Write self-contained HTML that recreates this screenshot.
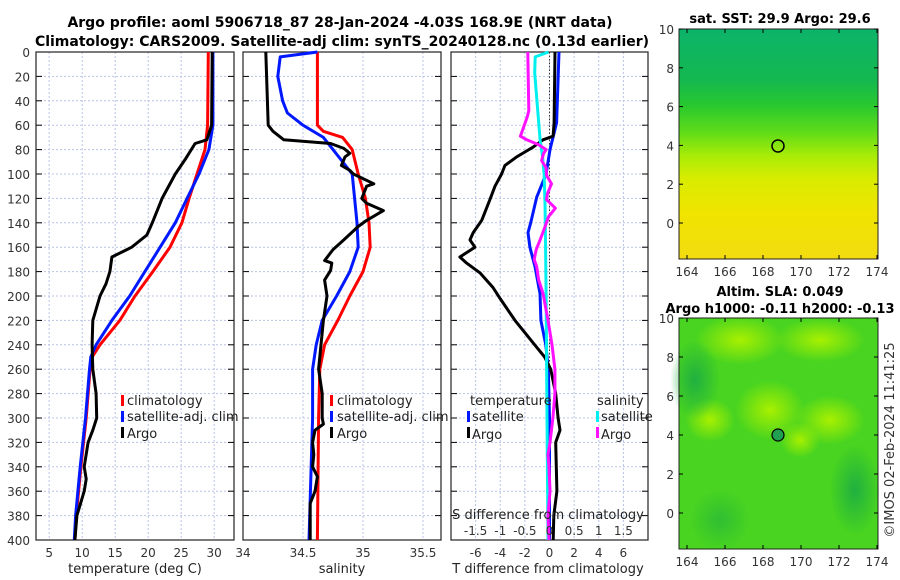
<!DOCTYPE html>
<html><head><meta charset="utf-8"><style>
html,body{margin:0;padding:0;background:#fff;}
svg{display:block;font-family:"DejaVu Sans","Liberation Sans",sans-serif;}
</style></head><body>
<svg id="c" width="900" height="580" xmlns="http://www.w3.org/2000/svg">
<defs>
<linearGradient id="sstg" x1="0" y1="0" x2="0" y2="1">
<stop offset="0" stop-color="#0cb46a"/><stop offset="0.22" stop-color="#14b850"/><stop offset="0.33" stop-color="#28c830"/>
<stop offset="0.45" stop-color="#60dc18"/><stop offset="0.55" stop-color="#a8ec08"/><stop offset="0.65" stop-color="#d8ec00"/>
<stop offset="0.8" stop-color="#f0e400"/><stop offset="1" stop-color="#f2dc10"/></linearGradient>
<radialGradient id="blobL"><stop offset="0" stop-color="#a8f000"/><stop offset="1" stop-color="#a8f000" stop-opacity="0"/></radialGradient>
<radialGradient id="blobD"><stop offset="0" stop-color="#20b040"/><stop offset="1" stop-color="#20b040" stop-opacity="0"/></radialGradient>
</defs>
<g id="titles">
<text x="340" y="27" text-anchor="middle" font-size="14" font-weight="bold">Argo profile: aoml 5906718_87 28-Jan-2024 -4.03S 168.9E (NRT data)</text>
<text x="342" y="46" text-anchor="middle" font-size="14" font-weight="bold">Climatology: CARS2009. Satellite-adj clim: synTS_20240128.nc (0.13d earlier)</text>
</g>
<g id="plots"></g>
<g id="maps">
<text x="780" y="23" text-anchor="middle" font-size="13" font-weight="bold">sat. SST: 29.9 Argo: 29.6</text>
<rect x="679" y="29" width="199" height="230" fill="url(#sstg)"/>
<circle cx="778" cy="146" r="6" fill="none" stroke="#000" stroke-width="1.5"/>
<text x="780" y="296" text-anchor="middle" font-size="13" font-weight="bold">Altim. SLA: 0.049</text>
<text x="780" y="313" text-anchor="middle" font-size="13" font-weight="bold">Argo h1000: -0.11 h2000: -0.13</text>
<rect x="679" y="318" width="199" height="231" fill="#48d420"/>
<g>
<ellipse cx="740" cy="340" rx="45" ry="25" fill="url(#blobL)"/>
<ellipse cx="820" cy="340" rx="45" ry="22" fill="url(#blobL)"/>
<ellipse cx="770" cy="410" rx="35" ry="30" fill="url(#blobL)"/>
<ellipse cx="710" cy="420" rx="25" ry="22" fill="url(#blobL)"/>
<ellipse cx="830" cy="420" rx="35" ry="25" fill="url(#blobL)"/>
<ellipse cx="800" cy="440" rx="20" ry="18" fill="url(#blobL)"/>
<ellipse cx="695" cy="380" rx="25" ry="40" fill="url(#blobD)"/>
<ellipse cx="855" cy="490" rx="25" ry="45" fill="url(#blobD)"/>
<ellipse cx="720" cy="520" rx="30" ry="30" fill="url(#blobD)" opacity="0.6"/>
</g>
<circle cx="778" cy="435" r="6" fill="#20a050" stroke="#000" stroke-width="1.2"/>
<text transform="translate(894,440) rotate(-90)" text-anchor="middle" font-size="13" fill="#333">©IMOS 02-Feb-2024 11:41:25</text>
</g>
</svg>
<script>
const tClimD=[0,60,80,100,120,140,160,180,200,220,240,250,260,300,340,380,400];
const tClim=[29.1,29.0,28.6,27.4,26.2,25.1,23.3,20.7,18.0,15.7,12.7,11.5,11.2,10.6,9.8,9.1,8.9];
const tSatD=[0,60,80,100,120,140,160,180,200,220,240,250,260,300,340,380,400];
const tSat=[29.8,29.8,29.2,27.7,25.9,24.1,21.8,19.5,17.2,14.5,12.1,11.3,11.1,10.5,9.7,9.0,8.8];
const tArgoD=[0,60,72,75,88,100,120,139,150,160,168,180,190,200,220,240,260,280,300,310,320,340,350,360,380,400];
const tArgo=[29.7,29.6,28.9,27.1,25.6,24.1,22.1,20.7,19.8,17.5,14.5,14.2,13.6,12.7,11.6,11.5,11.6,12.1,12.2,11.6,10.9,10.3,10.6,10.3,9.2,8.9];
const sClimD=[0,60,65,70,80,100,120,140,160,180,200,220,240,260,300,400];
const sClim=[34.62,34.62,34.67,34.83,34.91,34.96,35.02,35.05,35.06,35.0,34.89,34.79,34.68,34.64,34.63,34.62];
const sSatD=[0,4,20,40,50,60,70,80,100,120,140,160,180,200,220,240,260,300,400];
const sSat=[34.62,34.31,34.29,34.33,34.37,34.5,34.67,34.75,34.91,34.93,34.95,34.96,34.89,34.78,34.66,34.61,34.58,34.58,34.55];
const sArgoD=[0,60,65,72,75,79,83,86,93,97,100,108,110,120,124,130,138,143,154,162,171,173,179,187,200,220,240,260,280,300,305,310,320,330,340,348,360,370,380,400];
const sArgo=[34.19,34.21,34.25,34.34,34.73,34.84,34.89,34.85,34.82,34.89,34.92,35.09,35.03,34.99,35.03,35.17,35.03,34.96,34.84,34.75,34.68,34.74,34.73,34.68,34.7,34.67,34.65,34.63,34.66,34.66,34.67,34.6,34.58,34.59,34.58,34.62,34.6,34.56,34.56,34.56];
const dTSatD=[0,58,80,100,119,140,148,160,176,198,220,240,260,300,400];
const dTSat=[0.77,0.58,0.04,-0.28,-1.04,-1.53,-1.75,-1.59,-1.18,-0.77,-0.7,-0.3,-0.1,0,0];
const dTArgoD=[0,58,69,72,78,82,86,93,100,110,121,138,148,154,160,168,173,181,193,202,220,240,250,260,280,300,310,320,340,360,380,400];
const dTArgo=[0.45,0.37,0.29,-0.53,-1.34,-2.0,-2.67,-3.62,-3.89,-4.43,-4.84,-5.51,-6.2,-6.46,-6.06,-7.28,-6.73,-5.65,-4.59,-4.02,-2.8,-1.2,-0.4,0.1,0.5,0.7,0.85,0.5,0.55,0.6,0.35,0.3];
const dSSatD=[0,4,17,58,72,86,100,127,198,300,400];
const dSSat=[-0.02,-0.29,-0.3,-0.22,-0.19,-0.14,-0.11,-0.09,-0.07,-0.05,-0.03];
const dSArgoD=[0,48,53,69,72,76,80,83,89,95,101,108,116,121,128,135,143,154,162,170,176,187,198,220,240,260,280,300,320,330,340,360,380,400];
const dSArgo=[-0.44,-0.42,-0.45,-0.59,-0.46,-0.22,-0.07,-0.12,-0.16,-0.07,-0.06,0.04,-0.04,-0.06,0.12,-0.02,-0.09,-0.19,-0.27,-0.31,-0.26,-0.22,-0.13,-0.03,0.05,0.11,0.11,0.07,0.01,-0.03,-0.01,0.01,-0.03,-0.01];
const depthTicks=[0,20,40,60,80,100,120,140,160,180,200,220,240,260,280,300,320,340,360,380,400];
const tTicks=[5,10,15,20,25,30];
const sTicks=[34,34.5,35,35.5];
const dTTicks=[-6,-4,-2,0,2,4,6];
const dSTicks=[-1.5,-1,-0.5,0,0.5,1,1.5];

const NS='http://www.w3.org/2000/svg';
const root=document.getElementById('plots');
function mk(tag,attrs,parent){const e=document.createElementNS(NS,tag);for(const k in attrs)e.setAttribute(k,attrs[k]);(parent||root).appendChild(e);return e;}
const Y0=52,Y1=540;
const yS=d=>Y0+(d/400)*(Y1-Y0);
function lin(d0,d1,r0,r1){return v=>r0+(v-d0)/(d1-d0)*(r1-r0);}
const xT=lin(3,33,36,234), xS=lin(34,35.65,243,441), xDT=lin(-8,8,451,648), xDS=lin(-2,2,451,648);

function panel(name,x0,x1,vticks,xf,fmt,showY){
  const g=mk('g',{});
  
  
  vticks.forEach(v=>{const x=xf(v);if(x>x0+1&&x<x1-1){const l=mk('line',{x1:x,x2:x,y1:Y0,y2:Y1,stroke:'#b8c4e8','stroke-width':1,'stroke-dasharray':'2,2'},g);}});
  depthTicks.forEach(d=>{const y=yS(d);if(d>0&&d<400){const l=mk('line',{x1:x0,x2:x1,y1:y,y2:y,stroke:'#b8c4e8','stroke-width':1,'stroke-dasharray':'2,2'},g);}
    mk('line',{x1:x0,x2:x0+6,y1:y,y2:y,stroke:'#000'},g);mk('line',{x1:x1-6,x2:x1,y1:y,y2:y,stroke:'#000'},g);
    if(showY){const t=mk('text',{x:x0-6,y:y+5,'text-anchor':'end','font-size':12,fill:'#333'},g);t.textContent=d;}});
  const r=mk('rect',{x:x0,y:Y0,width:x1-x0,height:Y1-Y0,fill:'none',stroke:'#222','stroke-width':1.2},g);
  
  return g;
}
function series(g,name,ds,vs,xf,color,w){
  const pts=ds.map((d,i)=>xf(vs[i]).toFixed(1)+','+yS(d).toFixed(1)).join(' ');
  const p=mk('polyline',{points:pts,fill:'none',stroke:color,'stroke-width':w||3,'stroke-linejoin':'round'},g);
  
  
}
function xlabels(g,ticks,xf,y,fmt){ticks.forEach(v=>{const t=mk('text',{x:xf(v),y:y,'text-anchor':'middle','font-size':12,fill:'#333'},g);t.textContent=fmt?fmt(v):v;});}
function txt(g,name,x,y,s,anchor){const t=mk('text',{x:x,y:y,'text-anchor':anchor||'start','font-size':13,fill:'#222'},g);t.textContent=s;return t;}
function legBar(g,x,y,c){const r=mk('rect',{x:x,y:y-11,width:3,height:11,fill:c},g);}

const g1=panel('temperature-panel',36,234,tTicks,xT,null,true);
series(g1,'temp-climatology-line',tClimD,tClim,xT,'#f00');
series(g1,'temp-satellite-line',tSatD,tSat,xT,'#0018ff');
series(g1,'temp-argo-line',tArgoD,tArgo,xT,'#000');
xlabels(g1,tTicks,xT,557);
txt(g1,'x-axis-title-temperature',135,573,'temperature (deg C)','middle');
legBar(g1,121,406,'#f00');txt(g1,'legend-climatology',127,405,'climatology');
legBar(g1,121,422,'#0018ff');txt(g1,'legend-satellite-adj',127,421,'satellite-adj. clim');
legBar(g1,121,438,'#000');txt(g1,'legend-argo',127,438,'Argo');

const g2=panel('salinity-panel',243,441,sTicks,xS,null,false);
series(g2,'sal-climatology-line',sClimD,sClim,xS,'#f00');
series(g2,'sal-satellite-line',sSatD,sSat,xS,'#0018ff');
series(g2,'sal-argo-line',sArgoD,sArgo,xS,'#000');
xlabels(g2,sTicks,xS,557);
txt(g2,'x-axis-title-salinity',342,573,'salinity','middle');
legBar(g2,330,406,'#f00');txt(g2,'legend-climatology',337,405,'climatology');
legBar(g2,330,422,'#0018ff');txt(g2,'legend-satellite-adj',337,421,'satellite-adj. clim');
legBar(g2,330,438,'#000');txt(g2,'legend-argo',337,438,'Argo');

const g3=panel('difference-panel',451,648,dTTicks,xDT,null,false);
const zl=mk('line',{x1:xDT(0),x2:xDT(0),y1:Y0,y2:Y1,stroke:'#333','stroke-width':1,'stroke-dasharray':'1.5,2'},g3);

series(g3,'dT-satellite-line',dTSatD,dTSat,xDT,'#0018ff');
series(g3,'dT-argo-line',dTArgoD,dTArgo,xDT,'#000');
series(g3,'dS-satellite-line',dSSatD,dSSat,xDS,'#00f0f0');
series(g3,'dS-argo-line',dSArgoD,dSArgo,xDS,'#ff10ff');
xlabels(g3,dTTicks,xDT,557);
xlabels(g3,dSTicks,xDS,535);
txt(g3,'dS-axis-title',548,519,'S difference from climatology','middle');
txt(g3,'dT-axis-title',548,573,'T difference from climatology','middle');
txt(g3,'legend-temperature-heading',470,405,'temperature');
legBar(g3,467,422,'#0018ff');txt(g3,'legend-t-satellite',472,421,'satellite');
legBar(g3,467,438,'#000');txt(g3,'legend-t-argo',472,439,'Argo');
txt(g3,'legend-salinity-heading',597,405,'salinity');
legBar(g3,596,422,'#00f0f0');txt(g3,'legend-s-satellite',601,421,'satellite');
legBar(g3,596,438,'#ff10ff');txt(g3,'legend-s-argo',601,439,'Argo');

const lonTicks=[164,166,168,170,172,174];
const latTicks=[0,2,4,6,8,10];
const mg=document.getElementById('maps');
function mapAxes(name,top,bottom,lat0y,lat10y){
  const g=mk('g',{},mg);
  
  
  const lx=lin(164,174,687,877), ly=lin(0,10,lat0y,lat10y);
  mk('rect',{x:679,y:top,width:199,height:bottom-top,fill:'none',stroke:'#222','stroke-width':1},g);
  lonTicks.forEach(v=>{const x=lx(v);mk('line',{x1:x,x2:x,y1:bottom,y2:bottom-4,stroke:'#000'},g);mk('line',{x1:x,x2:x,y1:top,y2:top+4,stroke:'#000'},g);
    const t=mk('text',{x:x,y:bottom+17,'text-anchor':'middle','font-size':12,fill:'#333'},g);t.textContent=v;});
  latTicks.forEach(v=>{const y=ly(v);mk('line',{x1:679,x2:683,y1:y,y2:y,stroke:'#000'},g);mk('line',{x1:874,x2:878,y1:y,y2:y,stroke:'#000'},g);
    const t=mk('text',{x:674,y:y+5,'text-anchor':'end','font-size':12,fill:'#333'},g);t.textContent=v;});
}
mapAxes('sst-map-axes',29,259,223,29);
mapAxes('sla-map-axes',318,549,513,318);
</script>
</body></html>
